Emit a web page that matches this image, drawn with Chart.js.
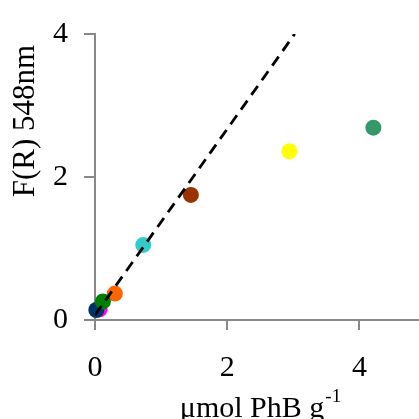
<!DOCTYPE html>
<html>
<head>
<meta charset="utf-8">
<script src="https://cdn.jsdelivr.net/npm/chart.js@4/dist/chart.umd.min.js"></script>
<style>
  html, body { margin: 0; padding: 0; background: #fff; }
  canvas { display: block; }
</style>
</head>
<body>
<canvas id="c" width="419" height="419"></canvas>
<script>
// samples, listed in drawing order
const sampleX = [0.30, 0.07, 0.02, 0.12, 0.73, 1.45, 2.94, 4.21];
const sampleY = [0.37, 0.15, 0.14, 0.26, 1.05, 1.75, 2.36, 2.69];
const sampleColors = ['#FF6600', '#FF00FF', '#003366', '#008000', '#33CCCC', '#993300', '#FFFF00', '#339966'];

// dashed fit line (end points)
const fitX = [0, 3.02];
const fitY = [0.07, 4];

const xTicks = [0, 2, 4];
const yTicks = [0, 2, 4];

const serif = "'Liberation Serif', 'Times New Roman', serif";

// axis titles drawn by hand (superscript on x title, y title sits high)
const titlesPlugin = {
  id: 'titles',
  afterDraw(chart) {
    const ctx = chart.ctx;
    ctx.save();
    ctx.fillStyle = '#000';
    // y title
    ctx.font = '31px ' + serif;
    ctx.textAlign = 'center';
    ctx.textBaseline = 'middle';
    ctx.translate(26, 121);
    ctx.rotate(-Math.PI / 2);
    ctx.fillText('F(R) 548nm', 0, 0);
    ctx.restore();

    // x title with superscript
    ctx.save();
    ctx.fillStyle = '#000';
    ctx.textBaseline = 'alphabetic';
    ctx.textAlign = 'left';
    const main = 'μmol PhB g';
    const sup = '-1';
    ctx.font = '30px ' + serif;
    const w1 = ctx.measureText(main).width;
    ctx.font = '19px ' + serif;
    const w2 = ctx.measureText(sup).width;
    let x0 = 260 - (w1 + w2) / 2;
    ctx.font = '30px ' + serif;
    ctx.fillText(main, x0, 417);
    ctx.font = '19px ' + serif;
    ctx.fillText(sup, x0 + w1 + 1, 402);
    ctx.restore();
  }
};

function draw() {
  new Chart(document.getElementById('c'), {
    type: 'scatter',
    data: {
      datasets: [
        {
          label: 'fit',
          data: fitX.map((x, i) => ({ x: x, y: fitY[i] })),
          showLine: true,
          borderColor: '#000',
          borderWidth: 2.8,
          borderDash: [11, 7],
          pointRadius: 0,
          order: 0
        },
        {
          label: 'samples',
          data: sampleX.map((x, i) => ({ x: x, y: sampleY[i] })),
          backgroundColor: sampleColors,
          borderWidth: 0,
          pointRadius: 8,
          pointHoverRadius: 8,
          clip: false,
          order: 1
        }
      ]
    },
    options: {
      responsive: false,
      animation: false,
      layout: { autoPadding: false, padding: { top: 30, right: 0, bottom: 0, left: 0 } },
      plugins: { legend: { display: false }, tooltip: { enabled: false } },
      scales: {
        x: {
          type: 'linear',
          min: 0,
          max: 4.9,
          afterBuildTicks: s => { s.ticks = xTicks.map(v => ({ value: v })); },
          afterFit: s => { s.height = 99; s.paddingRight = 0; s.paddingLeft = 0; },
          border: { color: '#888', width: 2 },
          grid: { drawOnChartArea: false, drawTicks: true, tickLength: 10, color: '#888', lineWidth: 2 },
          ticks: { color: '#000', font: { family: serif, size: 30 }, padding: 20, maxRotation: 0 }
        },
        y: {
          type: 'linear',
          min: 0,
          max: 4,
          afterBuildTicks: s => { s.ticks = yTicks.map(v => ({ value: v })); },
          afterFit: s => { s.width = 95; },
          border: { color: '#888', width: 2 },
          grid: { drawOnChartArea: false, drawTicks: true, tickLength: 11, color: '#888', lineWidth: 2 },
          ticks: { color: '#000', font: { family: serif, size: 30 }, padding: 16 }
        }
      }
    },
    plugins: [titlesPlugin]
  });
}

document.fonts.load("30px 'Liberation Serif'").then(draw, draw);
</script>
</body>
</html>
